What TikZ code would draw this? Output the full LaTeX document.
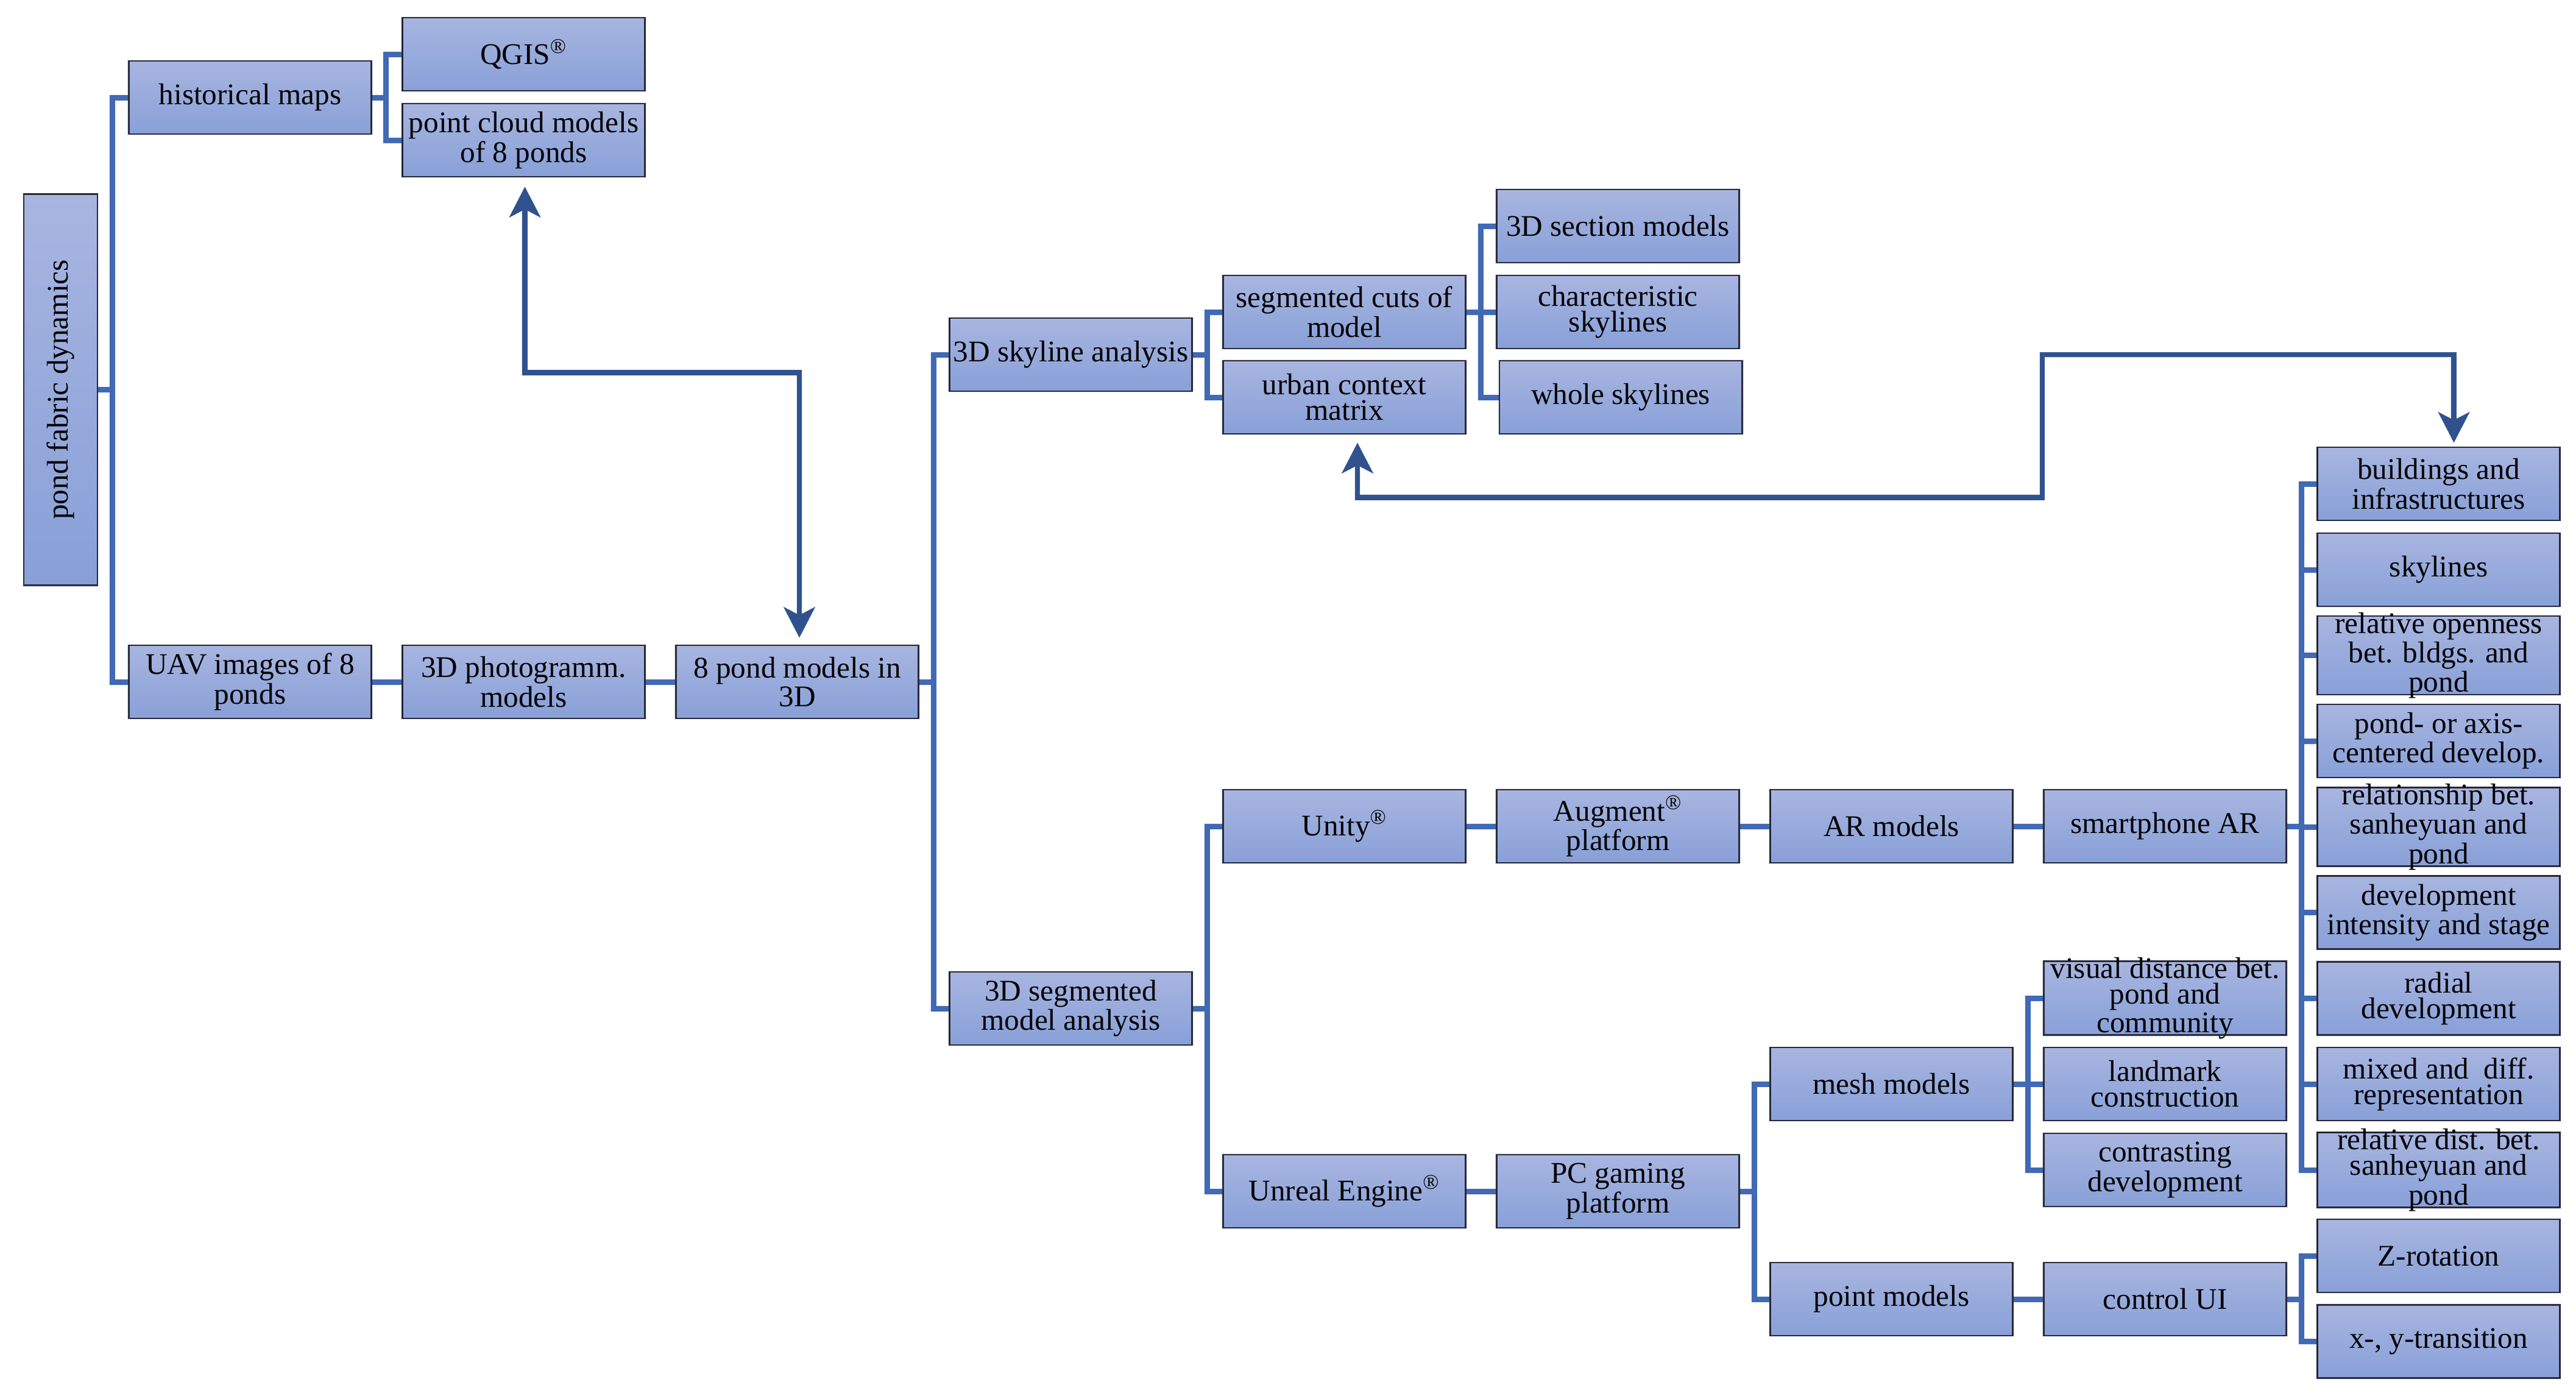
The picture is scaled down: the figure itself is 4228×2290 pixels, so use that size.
\documentclass[tikz,border=0pt]{standalone}
\usepackage{tikz}
\usepackage{fontspec}
\setmainfont{Liberation Serif}
\usetikzlibrary{arrows.meta}

\definecolor{connblue}{RGB}{65,105,180}
\definecolor{arrblue}{RGB}{47,82,143}
\definecolor{boxtop}{RGB}{168,181,224}
\definecolor{boxbot}{RGB}{136,160,216}
\definecolor{boxline}{RGB}{40,42,58}

\begin{document}
\begin{tikzpicture}[>={Stealth[length=5mm, width=5.1mm, inset=1.3mm]}, x=0.01cm, y=-0.01cm,
box/.style={draw=boxline, line width=0.8pt, top color=boxtop, bottom color=boxbot,
  minimum width=3.98cm, minimum height=1.2cm, inner sep=0pt, align=center,
  font=\fontsize{14pt}{12pt}\selectfont},
tight/.style={inner ysep=-0.06cm},
conn/.style={draw=connblue, line width=0.09cm},
arr/.style={draw=arrblue, line width=0.087cm, <->}]

\useasboundingbox (0,0) rectangle (4228,2290);

% boxes, left part
\node[box] (qgis) at (859.5,89) {QGIS\textsuperscript{\textregistered}};
\node[box] (hist) at (410.5,160) {historical maps};
\node[box] (pcloud) at (859.5,230) {point cloud models\\of 8 ponds};
\node[box, minimum width=1.21cm, minimum height=6.41cm] (root) at (99.5,639.5) {\rotatebox{90}{pond fabric dynamics}};
\node[box] (uav) at (410.5,1119) {UAV images of 8\\ponds};
\node[box] (photo) at (859.5,1119) {3D photogramm.\\models};
\node[box] (pond3d) at (1308.5,1119) {8 pond models in\\3D};

% skyline branch
\node[box] (skyline) at (1757.5,582) {3D skyline analysis};
\node[box] (segcuts) at (2206.5,512) {segmented cuts of\\model};
\node[box] (urban) at (2206.5,652) {urban context\\matrix};
\node[box] (section) at (2655.5,371) {3D section models};
\node[box] (charsky) at (2655.5,512) {characteristic\\skylines};
\node[box] (wholesky) at (2660,652) {whole skylines};

% segmented model branch
\node[box] (segmod) at (1757.5,1655) {3D segmented\\model analysis};
\node[box] (unity) at (2206.5,1356) {Unity\textsuperscript{\textregistered}};
\node[box] (augment) at (2655.5,1356) {Augment\textsuperscript{\textregistered}\\platform};
\node[box] (armod) at (3104.5,1356) {AR models};
\node[box] (phonear) at (3553.5,1356) {smartphone AR};
\node[box] (unreal) at (2206.5,1955) {Unreal Engine\textsuperscript{\textregistered}};
\node[box] (pcgame) at (2655.5,1955) {PC gaming\\platform};
\node[box] (mesh) at (3104.5,1779) {mesh models};
\node[box] (pointmod) at (3104.5,2132) {point models};
\node[box, tight] (visdist) at (3553.5,1638) {visual distance bet.\\pond and\\community};
\node[box] (landmark) at (3553.5,1779) {landmark\\construction};
\node[box] (contrast) at (3553.5,1920) {contrasting\\development};
\node[box] (ctrlui) at (3553.5,2132) {control UI};

% right column
\node[box] (bldg) at (4002.5,794) {buildings and\\infrastructures};
\node[box] (sky) at (4002.5,935) {skylines};
\node[box, tight] (open) at (4002.5,1075.5) {relative openness\\bet. bldgs. and\\pond};
\node[box] (axis) at (4002.5,1216) {pond- or axis-\\centered develop.};
\node[box, tight] (sanhe) at (4002.5,1357) {relationship bet.\\sanheyuan and\\pond};
\node[box] (intens) at (4002.5,1497.5) {development\\intensity and stage};
\node[box] (radial) at (4002.5,1638.5) {radial\\development};
\node[box] (mixed) at (4002.5,1779) {mixed and\ \ diff.\\representation};
\node[box, tight] (reldist) at (4002.5,1920) {relative dist. bet.\\sanheyuan and\\pond};
\node[box] (zrot) at (4002.5,2061) {Z-rotation};
\node[box] (xytrans) at (4002.5,2201.5) {x-, y-transition};

% tree connectors
\draw[conn] (root.east) -- ++(25.5,0);
\draw[conn] (hist.west) -- ++(-25.5,0) |- (uav.west);
\draw[conn] (hist.east) -- ++(25,0);
\draw[conn] (qgis.west) -- ++(-25,0) |- (pcloud.west);
\draw[conn] (uav) -- (photo);
\draw[conn] (photo) -- (pond3d);
\draw[conn] (pond3d.east) -- ++(25,0);
\draw[conn] (skyline.west) -- ++(-25,0) |- (segmod.west);
\draw[conn] (skyline.east) -- ++(24.5,0);
\draw[conn] (segcuts.west) -- ++(-24.5,0) |- (urban.west);
\draw[conn] (segcuts.east) -- ++(25,0);
\draw[conn] (section.west) -- ++(-25,0) |- (wholesky.west);
\draw[conn] (charsky.west) -- ++(-25,0);
\draw[conn] (segmod.east) -- ++(24.5,0);
\draw[conn] (unity.west) -- ++(-24.5,0) |- (unreal.west);
\draw[conn] (unity) -- (augment);
\draw[conn] (augment) -- (armod);
\draw[conn] (armod) -- (phonear);
\draw[conn] (phonear.east) -- ++(25,0);
\draw[conn] (bldg.west) -- ++(-25,0) |- (reldist.west);
\draw[conn] (sky.west) -- ++(-25,0);
\draw[conn] (open.west) -- ++(-25,0);
\draw[conn] (axis.west) -- ++(-25,0);
\draw[conn] (sanhe.west) -- ++(-25,0);
\draw[conn] (intens.west) -- ++(-25,0);
\draw[conn] (radial.west) -- ++(-25,0);
\draw[conn] (mixed.west) -- ++(-25,0);
\draw[conn] (unreal) -- (pcgame);
\draw[conn] (pcgame.east) -- ++(25,0);
\draw[conn] (mesh.west) -- ++(-25,0) |- (pointmod.west);
\draw[conn] (mesh.east) -- ++(25,0);
\draw[conn] (visdist.west) -- ++(-25,0) |- (contrast.west);
\draw[conn] (landmark.west) -- ++(-25,0);
\draw[conn] (pointmod) -- (ctrlui);
\draw[conn] (ctrlui.east) -- ++(25,0);
\draw[conn] (zrot.west) -- ++(-25,0) |- (xytrans.west);

% cross links
\coordinate (bend) at (3352,582);
\draw[arr] ([xshift=0.02cm, yshift=-0.15cm]pcloud.south) -- ++(0,305) -| ([xshift=0.035cm, yshift=0.11cm]pond3d.north);
\draw[arr] ([xshift=0.215cm, yshift=-0.13cm]urban.south) -- ++(0,90) -| (bend) -| ([xshift=0.25cm, yshift=0.06cm]bldg.north);

\end{tikzpicture}
\end{document}
